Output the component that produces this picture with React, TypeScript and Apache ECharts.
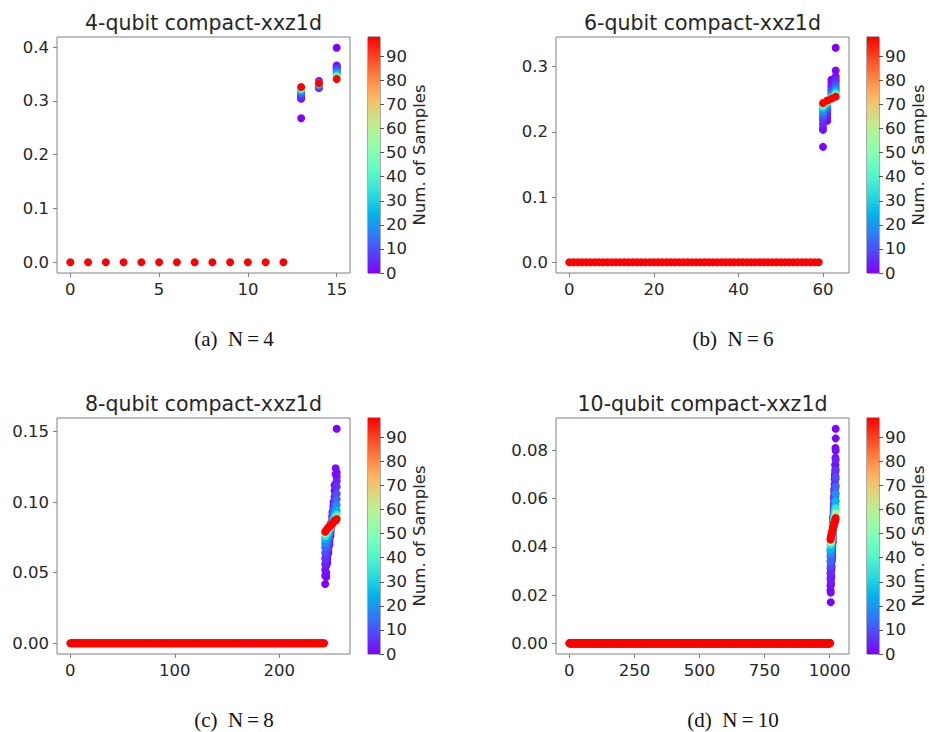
import React, { useEffect, useRef } from "react";
import * as echarts from "echarts";

// Number of samples at which each probability snapshot was taken (colour axis)
const sampleCounts = [0, 1, 2, 4, 6, 9, 13, 18, 25, 35, 55, 98];
const maxSamples = 98;
const colorbarTicks = [0, 10, 20, 30, 40, 50, 60, 70, 80, 90];

// matplotlib "rainbow" colormap, 21 evenly spaced stops
const rainbow = [
  "#8000FF", "#6628FE", "#4D4FFC", "#3374F8", "#1A96F3", "#00B4EB", "#1ACEE3",
  "#33E3DA", "#4DF3CE", "#66FCC2", "#80FFB4", "#99FCA5", "#B3F396", "#CCE385",
  "#E6CE74", "#FFB462", "#FF964F", "#FF743B", "#FF4F28", "#FF2814", "#FF0000",
];

// ---- N = 4 : 16 basis states ----
const n4Total = 16;
const n4ZeroStates = 13; // states 0..12 stay at zero
const n4States = [13, 14, 15];
const n4Values = [
  [0.268, 0.337, 0.399],
  [0.304, 0.324, 0.366],
  [0.308, 0.327, 0.364],
  [0.306, 0.325, 0.362],
  [0.310, 0.328, 0.360],
  [0.313, 0.327, 0.358],
  [0.316, 0.329, 0.355],
  [0.318, 0.330, 0.353],
  [0.320, 0.331, 0.350],
  [0.322, 0.332, 0.347],
  [0.324, 0.333, 0.344],
  [0.326, 0.333, 0.341],
];
const n4XTicks = [0, 5, 10, 15];
const n4YTicks = [0, 0.1, 0.2, 0.3, 0.4];

// ---- N = 6 : 64 basis states ----
const n6Total = 64;
const n6ZeroStates = 60;
const n6States = [60, 61, 62, 63];
const n6Values = [
  [0.177, 0.217, 0.280, 0.329],
  [0.206, 0.222, 0.276, 0.294],
  [0.203, 0.228, 0.271, 0.285],
  [0.212, 0.226, 0.268, 0.280],
  [0.218, 0.232, 0.265, 0.277],
  [0.222, 0.235, 0.262, 0.272],
  [0.227, 0.238, 0.259, 0.268],
  [0.231, 0.241, 0.257, 0.265],
  [0.236, 0.243, 0.255, 0.262],
  [0.239, 0.245, 0.253, 0.259],
  [0.242, 0.247, 0.252, 0.256],
  [0.244, 0.248, 0.251, 0.254],
];
const n6XTicks = [0, 20, 40, 60];
const n6YTicks = [0, 0.1, 0.2, 0.3];

// ---- N = 8 : 256 basis states ----
const n8Total = 256;
const n8ZeroStates = 244;
const n8States = [244, 245, 246, 247, 248, 249, 250, 251, 252, 253, 254, 255];
const n8Values = [
  [0.042, 0.050, 0.057, 0.064, 0.070, 0.076, 0.083, 0.090, 0.098, 0.108, 0.120, 0.152],
  [0.048, 0.047, 0.060, 0.066, 0.073, 0.078, 0.084, 0.093, 0.100, 0.112, 0.124, 0.118],
  [0.052, 0.055, 0.062, 0.068, 0.072, 0.079, 0.086, 0.091, 0.097, 0.104, 0.113, 0.121],
  [0.056, 0.058, 0.064, 0.070, 0.074, 0.080, 0.085, 0.090, 0.096, 0.102, 0.110, 0.115],
  [0.060, 0.062, 0.067, 0.071, 0.075, 0.080, 0.085, 0.089, 0.094, 0.099, 0.105, 0.111],
  [0.064, 0.066, 0.069, 0.073, 0.077, 0.081, 0.085, 0.088, 0.092, 0.097, 0.101, 0.106],
  [0.068, 0.070, 0.072, 0.075, 0.078, 0.081, 0.084, 0.087, 0.091, 0.094, 0.098, 0.102],
  [0.071, 0.073, 0.075, 0.077, 0.079, 0.082, 0.084, 0.087, 0.089, 0.092, 0.095, 0.098],
  [0.074, 0.075, 0.077, 0.078, 0.080, 0.082, 0.084, 0.086, 0.088, 0.090, 0.092, 0.094],
  [0.076, 0.077, 0.078, 0.080, 0.081, 0.082, 0.084, 0.085, 0.087, 0.088, 0.090, 0.091],
  [0.078, 0.079, 0.080, 0.081, 0.082, 0.083, 0.084, 0.085, 0.086, 0.087, 0.088, 0.089],
  [0.079, 0.080, 0.081, 0.082, 0.083, 0.083, 0.084, 0.085, 0.086, 0.087, 0.087, 0.088],
];
const n8XTicks = [0, 100, 200];
const n8YTicks = [0, 0.05, 0.1, 0.15];

// ---- N = 10 : 1024 basis states ----
const n10Total = 1024;
const n10ZeroStates = 1003;
const n10States = [
  1003, 1004, 1005, 1006, 1007, 1008, 1009, 1010, 1011, 1012, 1013,
  1014, 1015, 1016, 1017, 1018, 1019, 1020, 1021, 1022, 1023,
];
const n10Values = [
  [0.022, 0.017, 0.025, 0.028, 0.031, 0.034, 0.036, 0.040, 0.042, 0.046, 0.049, 0.052, 0.055, 0.058, 0.061, 0.064, 0.068, 0.070, 0.074, 0.081, 0.089],
  [0.024, 0.021, 0.027, 0.030, 0.032, 0.035, 0.037, 0.041, 0.042, 0.046, 0.049, 0.052, 0.054, 0.057, 0.060, 0.063, 0.066, 0.069, 0.072, 0.077, 0.085],
  [0.027, 0.024, 0.030, 0.032, 0.035, 0.037, 0.038, 0.042, 0.043, 0.046, 0.049, 0.051, 0.053, 0.056, 0.058, 0.061, 0.064, 0.065, 0.068, 0.074, 0.080],
  [0.029, 0.026, 0.032, 0.034, 0.036, 0.038, 0.040, 0.042, 0.044, 0.047, 0.049, 0.051, 0.053, 0.055, 0.057, 0.059, 0.062, 0.063, 0.066, 0.071, 0.076],
  [0.031, 0.029, 0.034, 0.035, 0.037, 0.039, 0.041, 0.043, 0.044, 0.047, 0.049, 0.050, 0.052, 0.054, 0.056, 0.058, 0.060, 0.061, 0.064, 0.068, 0.072],
  [0.034, 0.032, 0.035, 0.037, 0.039, 0.040, 0.042, 0.044, 0.045, 0.047, 0.048, 0.050, 0.052, 0.053, 0.055, 0.056, 0.058, 0.059, 0.061, 0.065, 0.069],
  [0.036, 0.034, 0.037, 0.039, 0.040, 0.041, 0.043, 0.044, 0.045, 0.047, 0.048, 0.050, 0.051, 0.052, 0.054, 0.055, 0.057, 0.058, 0.059, 0.062, 0.065],
  [0.038, 0.037, 0.039, 0.040, 0.041, 0.042, 0.043, 0.045, 0.046, 0.047, 0.048, 0.049, 0.051, 0.052, 0.053, 0.054, 0.055, 0.056, 0.057, 0.059, 0.062],
  [0.039, 0.039, 0.041, 0.041, 0.042, 0.043, 0.044, 0.045, 0.046, 0.047, 0.048, 0.049, 0.050, 0.051, 0.052, 0.052, 0.053, 0.054, 0.055, 0.057, 0.059],
  [0.041, 0.041, 0.042, 0.043, 0.044, 0.044, 0.045, 0.046, 0.046, 0.047, 0.048, 0.049, 0.050, 0.050, 0.051, 0.051, 0.052, 0.053, 0.054, 0.055, 0.056],
  [0.042, 0.042, 0.043, 0.044, 0.044, 0.045, 0.0455, 0.046, 0.047, 0.0475, 0.048, 0.0487, 0.0493, 0.0497, 0.0503, 0.0507, 0.0512, 0.0517, 0.0521, 0.0528, 0.0538],
  [0.043, 0.0435, 0.044, 0.0445, 0.045, 0.0455, 0.046, 0.0465, 0.047, 0.0475, 0.048, 0.0485, 0.049, 0.0493, 0.0497, 0.050, 0.0503, 0.0507, 0.051, 0.0513, 0.052],
];
const n10XTicks = [0, 250, 500, 750, 1000];
const n10YTicks = [0, 0.02, 0.04, 0.06, 0.08];

const titles = [
  "4-qubit compact-xxz1d",
  "6-qubit compact-xxz1d",
  "8-qubit compact-xxz1d",
  "10-qubit compact-xxz1d",
];
const captionTags = ["(a)", "(b)", "(c)", "(d)"];
const captionSizes = ["N=4", "N=6", "N=8", "N=10"];

type Panel = {
  total: number;
  zeroStates: number;
  states: number[];
  values: number[][];
  xTicks: number[];
  yTicks: number[];
  decimals: number;
  left: number;
  top: number;
};

const panels: Panel[] = [
  { total: n4Total, zeroStates: n4ZeroStates, states: n4States, values: n4Values, xTicks: n4XTicks, yTicks: n4YTicks, decimals: 1, left: 57, top: 37 },
  { total: n6Total, zeroStates: n6ZeroStates, states: n6States, values: n6Values, xTicks: n6XTicks, yTicks: n6YTicks, decimals: 1, left: 556, top: 37 },
  { total: n8Total, zeroStates: n8ZeroStates, states: n8States, values: n8Values, xTicks: n8XTicks, yTicks: n8YTicks, decimals: 2, left: 57, top: 418 },
  { total: n10Total, zeroStates: n10ZeroStates, states: n10States, values: n10Values, xTicks: n10XTicks, yTicks: n10YTicks, decimals: 2, left: 556, top: 418 },
];

const PLOT_W = 293;
const PLOT_H = 236;
const CB_OFFSET = 311;
const CB_W = 12;
const FONT = "DejaVu Sans";
const TEXT = "#262626";
const SPINE = "#808080";
const TICK_FS = 16.5;

function buildOption() {
  const grid: any[] = [];
  const xAxis: any[] = [];
  const yAxis: any[] = [];
  const series: any[] = [];
  const visualMap: any[] = [];
  const graphic: any[] = [];

  const cbStops = rainbow.map((c, i) => ({ offset: i / (rainbow.length - 1), color: c }));

  panels.forEach((p, i) => {
    // scatter points: [state index, probability, sample count]
    const data: number[][] = [];
    for (let s = 0; s < p.zeroStates; s++) data.push([s, 0, maxSamples]);
    sampleCounts.forEach((n, r) => {
      p.states.forEach((st, c) => data.push([st, p.values[r][c], n]));
    });

    const yMax = Math.max(...p.values.flat());
    const yPad = 0.05 * yMax;
    const xPad = 0.05 * (p.total - 1);

    const g = grid.length;
    grid.push({
      left: p.left, top: p.top, width: PLOT_W, height: PLOT_H,
      show: true, borderColor: SPINE, borderWidth: 1, backgroundColor: "transparent",
    });
    xAxis.push({
      type: "value", gridIndex: g, min: -xPad, max: p.total - 1 + xPad,
      axisLine: { show: false, onZero: false },
      axisTick: { show: true, customValues: p.xTicks, length: 4, lineStyle: { color: SPINE } },
      axisLabel: {
        customValues: p.xTicks, fontSize: TICK_FS, color: TEXT, fontFamily: FONT, margin: 8,
        formatter: (v: number) => String(v),
      },
      splitLine: { show: false },
    });
    yAxis.push({
      type: "value", gridIndex: g, min: -yPad, max: yMax + yPad,
      axisLine: { show: false, onZero: false },
      axisTick: { show: true, customValues: p.yTicks, length: 4, lineStyle: { color: SPINE } },
      axisLabel: {
        customValues: p.yTicks, fontSize: TICK_FS, color: TEXT, fontFamily: FONT, margin: 8,
        formatter: (v: number) => v.toFixed(p.decimals),
      },
      splitLine: { show: false },
    });
    const sIdx = series.length;
    series.push({
      type: "scatter", xAxisIndex: g, yAxisIndex: g, data, symbolSize: 8,
      itemStyle: { opacity: 1 },
      silent: true, progressive: 0, large: false,
    });
    visualMap.push({
      type: "continuous", show: false, min: 0, max: maxSamples, dimension: 2,
      seriesIndex: sIdx, inRange: { color: rainbow },
    });

    // colorbar
    const cg = grid.length;
    grid.push({
      left: p.left + CB_OFFSET, top: p.top, width: CB_W, height: PLOT_H,
      show: true, borderColor: "#555", borderWidth: 1, backgroundColor: "transparent",
    });
    xAxis.push({ type: "category", gridIndex: cg, data: [""], show: false });
    yAxis.push({
      type: "value", gridIndex: cg, min: 0, max: maxSamples, position: "right",
      axisLine: { show: false },
      axisTick: { show: true, customValues: colorbarTicks, length: 4, lineStyle: { color: "#555" } },
      axisLabel: { customValues: colorbarTicks, fontSize: TICK_FS, color: TEXT, fontFamily: FONT, margin: 6 },
      splitLine: { show: false },
      name: "Num. of Samples", nameLocation: "middle", nameRotate: 90, nameGap: 30,
      nameTextStyle: { fontSize: TICK_FS, color: TEXT, fontFamily: FONT },
    });
    series.push({
      type: "bar", xAxisIndex: cg, yAxisIndex: cg, data: [maxSamples], barWidth: "100%",
      silent: true,
      itemStyle: { color: new echarts.graphic.LinearGradient(0, 1, 0, 0, cbStops) },
    });

    // subplot title
    graphic.push({
      type: "text", x: p.left + PLOT_W / 2, y: p.top - 14,
      style: { text: titles[i], fill: TEXT, font: `20.5px "${FONT}"`, align: "center", verticalAlign: "middle" },
    });
    // subfigure caption
    const capX = p.left + 177;
    graphic.push({
      type: "text", x: capX, y: p.top + 302,
      style: {
        text: `${captionTags[i]}\u00a0\u00a0${captionSizes[i].replace("=", "\u2009=\u2009")}`,
        fill: "#111", font: `21px "Liberation Serif"`, align: "center", verticalAlign: "middle",
      },
    });
  });

  return {
    animation: false,
    backgroundColor: "#ffffff",
    textStyle: { fontFamily: FONT },
    grid, xAxis, yAxis, series, visualMap, graphic,
  };
}

export default function App() {
  const ref = useRef<HTMLDivElement>(null);
  useEffect(() => {
    if (!ref.current) return;
    const chart = echarts.init(ref.current, undefined, { renderer: "svg" });
    chart.setOption(buildOption() as any);
    return () => chart.dispose();
  }, []);
  return (
    <div
      ref={ref}
      style={{ position: "fixed", left: 0, top: 0, width: 929, height: 732, background: "#fff" }}
    />
  );
}
